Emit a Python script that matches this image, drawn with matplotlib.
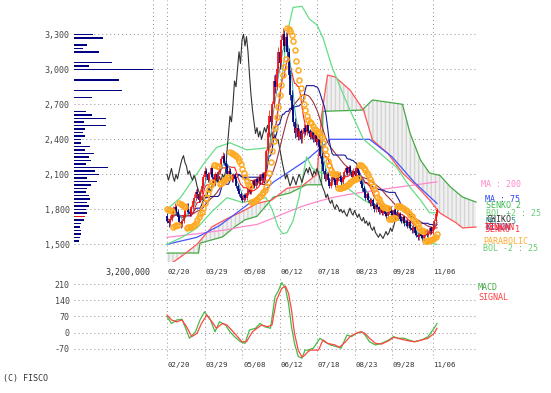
import numpy as np
import pandas as pd
import matplotlib
matplotlib.use("Agg")
import matplotlib.pyplot as plt

# ---------------- data ----------------
date_labels = ["02/20", "03/29", "05/08", "06/12", "07/18", "08/23", "09/28", "11/06"]
date_pos = [0, 25, 50, 75, 100, 125, 150, 177]

close = [
1700,1680,1720,1760,1800,1820,1780,1730,1690,1670,
1700,1750,1800,1830,1780,1760,1820,1870,1900,1950,
1930,1880,1950,2000,2080,2130,2100,2050,2100,2150,
2080,2040,2100,2060,2120,2180,2230,2260,2200,2170,
2100,2130,2080,2050,2090,2060,2000,1960,1930,1900,
1880,1920,1900,1940,1980,1950,2000,2040,2000,2060,
2030,2080,2040,2100,2070,2120,2300,2450,2600,2550,
2700,2900,2850,3000,3150,3050,3250,3300,3200,3280,
3150,2950,2780,2650,2550,2450,2500,2420,2470,2400,
2450,2500,2460,2520,2470,2420,2460,2400,2440,2380,
2400,2330,2260,2190,2130,2060,2100,2050,2000,2030,
2080,2050,2010,2060,2100,2070,2030,2080,2120,2150,
2110,2160,2120,2080,2130,2100,2150,2110,2060,2020,
1980,1950,1900,1930,1880,1850,1880,1830,1800,1840,
1820,1780,1800,1770,1790,1760,1740,1780,1810,1770,
1750,1790,1760,1730,1760,1720,1700,1730,1680,1700,
1660,1690,1640,1620,1650,1600,1580,1560,1590,1570,
1550,1580,1610,1580,1600,1640,1610,1650,1700,1760,1790]

open_ = [
1740,1700,1680,1720,1760,1800,1820,1780,1730,1690,
1670,1700,1750,1800,1830,1780,1760,1820,1870,1900,
1950,1930,1880,1950,2000,2080,2130,2100,2050,2100,
2150,2080,2040,2100,2060,2120,2180,2230,2260,2200,
2170,2100,2130,2080,2050,2090,2060,2000,1960,1930,
1900,1880,1920,1900,1940,1980,1950,2000,2040,2000,
2060,2030,2080,2040,2100,2070,2120,2300,2450,2600,
2550,2700,2900,2850,3000,3150,3050,3250,3300,3200,
3280,3150,2950,2780,2650,2550,2450,2500,2420,2470,
2400,2450,2500,2460,2520,2470,2420,2460,2400,2440,
2380,2400,2330,2260,2190,2130,2060,2100,2050,2000,
2030,2080,2050,2010,2060,2100,2070,2030,2080,2120,
2150,2110,2160,2120,2080,2130,2100,2150,2110,2060,
2020,1980,1950,1900,1930,1880,1850,1880,1830,1800,
1840,1820,1780,1800,1770,1790,1760,1740,1780,1810,
1770,1750,1790,1760,1730,1760,1720,1700,1730,1680,
1700,1660,1690,1640,1620,1650,1600,1580,1560,1590,
1570,1550,1580,1610,1580,1600,1640,1610,1650,1700,1760]

high = [
1770,1720,1750,1780,1830,1850,1840,1800,1750,1710,
1720,1770,1820,1850,1850,1800,1840,1890,1930,1970,
1980,1950,1970,2030,2100,2160,2150,2120,2120,2180,
2170,2100,2120,2120,2140,2200,2260,2290,2280,2220,
2190,2150,2150,2100,2110,2110,2080,2020,1980,1950,
1920,1940,1940,1960,2000,2000,2020,2060,2060,2080,
2080,2100,2100,2120,2120,2140,2320,2490,2650,2660,
2730,2950,2960,3030,3190,3200,3290,3350,3340,3320,
3310,3180,2990,2820,2690,2580,2540,2530,2500,2490,
2480,2530,2520,2550,2540,2490,2480,2480,2460,2460,
2430,2420,2350,2280,2210,2150,2120,2120,2070,2050,
2100,2100,2070,2080,2120,2120,2090,2100,2140,2170,
2170,2180,2180,2140,2150,2150,2170,2170,2120,2080,
2040,2000,1970,1950,1950,1900,1900,1900,1850,1860,
1860,1840,1820,1820,1810,1810,1780,1800,1830,1830,
1790,1810,1810,1780,1780,1780,1740,1750,1750,1720,
1720,1710,1710,1660,1670,1670,1620,1600,1610,1610,
1590,1600,1630,1630,1620,1660,1660,1670,1720,1780,1810]

low = [
1680,1650,1660,1700,1740,1780,1760,1710,1670,1640,
1650,1680,1730,1780,1760,1740,1740,1800,1850,1880,
1900,1860,1860,1930,1980,2050,2080,2030,2030,2080,
2060,2020,2020,2040,2040,2100,2160,2210,2180,2150,
2080,2080,2060,2030,2030,2040,1980,1940,1910,1880,
1860,1860,1880,1880,1920,1930,1930,1980,1980,1980,
2010,2010,2020,2020,2050,2050,2110,2280,2420,2500,
2520,2680,2800,2820,2970,3000,3020,3200,3150,3160,
3100,2920,2740,2620,2510,2410,2420,2390,2390,2370,
2370,2420,2440,2440,2450,2400,2400,2380,2380,2350,
2350,2310,2240,2170,2110,2040,2040,2030,1980,1980,
2010,2030,1990,1990,2040,2050,2010,2010,2060,2100,
2090,2090,2100,2060,2060,2080,2080,2090,2040,2000,
1960,1930,1880,1880,1860,1830,1830,1810,1780,1780,
1800,1760,1760,1750,1750,1740,1720,1720,1760,1750,
1730,1730,1740,1710,1710,1700,1680,1680,1660,1660,
1640,1640,1620,1600,1600,1580,1560,1540,1540,1550,
1530,1530,1560,1560,1560,1580,1590,1590,1630,1690,1740]

# smooth indicator lines: (day, value)
ma200_day = [0, 20, 40, 50, 60, 70, 80, 90, 100, 110, 120, 140, 160, 180]
ma200_val = [1560, 1590, 1625, 1650, 1670, 1720, 1775, 1825, 1865, 1900, 1925, 1965, 2000, 2035]

ma75_day = [0, 20, 35, 49, 60, 71, 80, 93, 100, 109, 135, 150, 165, 180]
ma75_val = [1500, 1560, 1660, 1794, 1900, 2034, 2110, 2222, 2300, 2400, 2400, 2250, 2030, 1850]

bbup_day = [0, 9, 17, 25, 33, 42, 53, 62, 68, 72, 76, 80, 84, 90, 95, 100, 104, 110, 117, 122, 131, 142, 153, 162, 169, 175, 180]
bbup_val = [1800, 1900, 2050, 2200, 2330, 2370, 2310, 2320, 2330, 2480, 2850, 3300, 3530, 3540, 3430, 3380, 3270, 3020, 2800, 2650, 2400, 2280, 2160, 1990, 1880, 1770, 1770]

bbdn_day = [0, 10, 20, 30, 40, 50, 60, 66, 70, 74, 77, 80, 84, 88, 93, 97, 105, 113, 122, 131, 142, 153, 164, 175, 180]
bbdn_val = [1500, 1560, 1640, 1780, 1900, 1860, 1880, 1900, 1800, 1650, 1590, 1600, 1700, 1900, 2250, 2150, 2100, 2080, 1965, 1880, 1800, 1730, 1620, 1510, 1500]

senko2_day = [0, 21, 22, 37, 45, 52, 60, 71, 82, 93, 103, 104, 130, 137, 157, 162, 169, 175, 182, 189, 197, 206]
senko2_val = [1425, 1425, 1510, 1563, 1648, 1710, 1740, 1905, 1940, 2010, 2010, 2640, 2650, 2737, 2700, 2453, 2222, 2111, 2090, 1991, 1905, 1862]

senko1_day = [0, 10, 20, 30, 40, 50, 60, 70, 80, 90, 100, 103, 107, 112, 122, 131, 137, 147, 157, 167, 175, 182, 193, 197, 206]
senko1_val = [1310, 1400, 1500, 1650, 1720, 1780, 1850, 1880, 1980, 2000, 2100, 2600, 2950, 2935, 2823, 2650, 2394, 2282, 2111, 1991, 1880, 1768, 1682, 1640, 1648]

macd_day = [0, 3, 6.5, 10, 12, 15, 19, 22, 25, 29, 32, 35, 39, 42, 45, 49, 52, 55, 59, 62, 65, 69, 72, 74, 76.5, 79, 81, 83, 85, 87.5, 90, 92, 94, 97.5, 102, 105, 109, 113, 116, 120, 123, 126, 130, 132, 135, 139, 143, 148, 151, 154, 158, 161, 165, 170, 174, 178, 180]
macd_val = [69, 40, 55, 58, 26, -24, 4, 55, 90, 55, 4, 47, 33, 4, -17, -39, -46, 12, 19, 40, 26, 19, 155, 177, 216, 191, 127, 26, -46, -103, -110, -75, -75, -67, -24, -39, -53, -60, -67, -10, -17, -3, 4, -10, -39, -53, -46, -31, -17, -24, -24, -31, -39, -31, -17, 19, 40]

signal_day = [0, 3, 6.5, 10, 13, 16.5, 20, 23, 26.5, 30, 33, 37, 40, 43, 47, 50, 53, 57, 60, 63, 67, 70, 73, 76.5, 79, 81, 83, 85, 87.5, 90, 92, 94, 95.5, 101, 104, 107, 112, 115, 119, 122, 126, 129, 132, 135, 139, 143, 148, 151, 154, 158, 161, 165, 170, 174, 178, 180]
signal_val = [76, 55, 47, 55, 26, -17, -3, 40, 76, 47, 19, 40, 33, 12, -17, -39, -39, 4, 19, 33, 26, 33, 141, 191, 201, 170, 98, -3, -75, -106, -96, -82, -75, -75, -31, -46, -53, -63, -39, -17, -3, 4, -3, -24, -46, -49, -34, -20, -24, -31, -35, -39, -31, -24, -3, 19]

vol_price = [3300, 3270, 3240, 3210, 3180, 3150, 3120, 3090, 3060, 3030, 3000, 2970, 2940, 2910, 2880, 2850, 2820, 2790, 2760, 2730, 2700, 2670, 2640, 2610, 2580, 2550, 2520, 2490, 2460, 2430, 2400, 2370, 2340, 2310, 2280, 2250, 2220, 2190, 2160, 2130, 2100, 2070, 2040, 2010, 1980, 1950, 1920, 1890, 1860, 1830, 1800, 1770, 1740, 1710, 1680, 1650, 1620, 1590, 1560, 1530]
vol_amount = [770000, 1200000, 0, 550000, 350000, 1000000, 0, 0, 1550000, 600000, 3200000, 0, 0, 1850000, 0, 0, 1950000, 0, 720000, 0, 0, 0, 500000, 750000, 1300000, 400000, 1300000, 450000, 350000, 450000, 300000, 300000, 650000, 450000, 800000, 600000, 700000, 500000, 1400000, 850000, 1000000, 550000, 950000, 700000, 550000, 500000, 600000, 650000, 550000, 600000, 500000, 550000, 450000, 400000, 300000, 250000, 300000, 300000, 250000, 200000]
current_bin = 1740
vol_max_label = "3,200,000"

price_ticks = [1500, 1800, 2100, 2400, 2700, 3000, 3300]
macd_ticks = [-70, 0, 70, 140, 210]

# ---------------- derived series ----------------
c = pd.Series(close, dtype=float)
h = pd.Series(high, dtype=float)
l = pd.Series(low, dtype=float)
days = np.arange(len(close))
ma5 = c.rolling(5, min_periods=1).mean()
ma25 = c.rolling(25, min_periods=1).mean()
tenkan = (h.rolling(9, min_periods=1).max() + l.rolling(9, min_periods=1).min()) / 2
kijun = (h.rolling(26, min_periods=1).max() + l.rolling(26, min_periods=1).min()) / 2
chiko_shift = 26


def parabolic(hh, ll, start_sar, af_step=0.02, af_max=0.2):
    n = len(hh)
    out = np.zeros(n)
    trend = -1
    sar = start_sar
    ep = ll[0]
    af = af_step
    out[0] = sar
    for i in range(1, n):
        sar = sar + af * (ep - sar)
        if trend == 1:
            sar = min(sar, ll[i - 1], ll[max(i - 2, 0)])
            if ll[i] < sar:
                trend, sar, ep, af = -1, ep, ll[i], af_step
            elif hh[i] > ep:
                ep, af = hh[i], min(af + af_step, af_max)
        else:
            sar = max(sar, hh[i - 1], hh[max(i - 2, 0)])
            if hh[i] > sar:
                trend, sar, ep, af = 1, ep, hh[i], af_step
            elif ll[i] < ep:
                ep, af = ll[i], min(af + af_step, af_max)
        out[i] = sar
    return out


sar = parabolic(high, low, 1800)

# ---------------- layout helpers ----------------
W, H = 551, 393
fig = plt.figure(figsize=(W / 100, H / 100), dpi=100)
fig.patch.set_facecolor("white")
MONO = "DejaVu Sans Mono"
FS = 6


def px_axes(x0, y0, x1, y1):
    return fig.add_axes([x0 / W, 1 - y1 / H, (x1 - x0) / W, (y1 - y0) / H])


def ftext(x, y, s, color="#333333", ha="left", size=FS):
    fig.text(x / W, 1 - y / H, s, color=color, ha=ha, va="center",
             fontsize=size, family=MONO)


X_LEFT, X_RIGHT = 74, 477
D0_PX, PX_PER_DAY = 167.0, 1.5
xlim = ((X_LEFT - D0_PX) / PX_PER_DAY, (X_RIGHT - D0_PX) / PX_PER_DAY)

PPX = 300 / 35.0
p_top = 1500 + (244.3 - 0) * PPX
p_bot = 1500 + (244.3 - 262) * PPX

grid_kw = dict(color="#9a9a9a", lw=0.75, ls=(0, (1, 2.8)), zorder=0.5)

# ---------------- price panel ----------------
ax = px_axes(X_LEFT, 0, X_RIGHT, 262)
ax.set_xlim(*xlim)
ax.set_ylim(p_bot, p_top)
for s in ax.spines.values():
    s.set_visible(False)
ax.set_xticks([])
ax.set_yticks(price_ticks)
ax.set_yticklabels([f"{v:,}" for v in price_ticks], family=MONO, fontsize=FS, color="#444444")
ax.tick_params(axis="y", length=0, pad=3)
ax.patch.set_alpha(0)
for v in price_ticks:
    ax.axhline(v, **grid_kw)
for d in date_pos:
    ax.axvline(d, **grid_kw)
ax.axvline((152.5 - D0_PX) / PX_PER_DAY, **grid_kw)

# ichimoku cloud
cloud_x = np.arange(0, 207)
s1 = np.interp(cloud_x, senko1_day, senko1_val)
s2 = np.interp(cloud_x, senko2_day, senko2_val)
ax.fill_between(cloud_x, s1, s2, facecolor="#f0f0f0", edgecolor="#d4d4d4",
                hatch="||||", linewidth=0, zorder=1)
ax.plot(senko2_day, senko2_val, color="#44aa44", lw=0.9, zorder=2)
ax.plot(senko1_day, senko1_val, color="#ff5555", lw=0.9, zorder=2)

ax.plot(ma200_day, ma200_val, color="#ff88cc", lw=0.9, zorder=2)
ax.plot(ma75_day, ma75_val, color="#4455ff", lw=0.9, zorder=2)
ax.plot(bbup_day, bbup_val, color="#66dd88", lw=0.9, zorder=2)
ax.plot(bbdn_day, bbdn_val, color="#66dd88", lw=0.9, zorder=2)

ax.plot(days[:len(close) - chiko_shift], close[chiko_shift:], color="#333333", lw=0.8, zorder=2.5)
ax.plot(days, ma25, color="#993344", lw=0.8, zorder=3)
ax.plot(days, kijun, color="#1a1a99", lw=0.8, zorder=3)
ax.plot(days, tenkan, color="#ff2222", lw=0.8, zorder=3)
ax.plot(days, ma5, color="#33aaaa", lw=0.7, zorder=3)

o_arr = np.array(open_)
c_arr = np.array(close)
up = c_arr >= o_arr
cols = np.where(up, "#ee1111", "#000080")
ax.vlines(days, low, high, colors=cols, lw=0.55, zorder=4)
ax.vlines(days, o_arr, c_arr, colors=cols, lw=1.25, zorder=4.1)

ax.plot(days, sar, ls="none", marker="o", ms=3.6, mfc="none", mec="#ffaa22",
        mew=1.1, zorder=5)

# ---------------- volume profile ----------------
axv = px_axes(X_LEFT, 0, 152.5, 262)
axv.set_xlim(0, 3200000)
axv.set_ylim(p_bot, p_top)
axv.axis("off")
vcols = ["#dd1111" if p == current_bin else "#000080" for p in vol_price]
axv.barh(vol_price, vol_amount, height=13, left=0, color=vcols, zorder=3)
ftext(150, 272, vol_max_label, ha="right")

# ---------------- MACD panel ----------------
m_top_px, m_bot_px = 277.0, 359.4
zero_px, per_unit = 332.7, 0.2319
axm = px_axes(X_LEFT, m_top_px, X_RIGHT, m_bot_px)
axm.set_xlim(*xlim)
axm.set_ylim((zero_px - m_bot_px) / per_unit, (zero_px - m_top_px) / per_unit)
for s in axm.spines.values():
    s.set_visible(False)
axm.patch.set_alpha(0)
axm.set_xticks([])
axm.set_yticks(macd_ticks)
axm.set_yticklabels([str(v) for v in macd_ticks], family=MONO, fontsize=FS, color="#444444")
axm.tick_params(axis="y", length=0, pad=3)
for v in macd_ticks:
    axm.axhline(v, **grid_kw)
for d in date_pos:
    axm.axvline(d, **grid_kw)
axm.plot(macd_day, macd_val, color="#44bb44", lw=0.9, zorder=3)
axm.plot(signal_day, signal_val, color="#ff4444", lw=0.9, zorder=3)

for d, lab in zip(date_pos, date_labels):
    xp = D0_PX + d * PX_PER_DAY
    ftext(xp + 1, 272, lab, size=5.3)
    ftext(xp + 1, 365, lab, size=5.3)

# ---------------- legends ----------------
ftext(481, 185, "MA : 200", "#ff88cc")
ftext(485, 200, "MA : 75", "#3344ff")
ftext(486, 206, "SENKO 2", "#44bb55")
ftext(486, 213, "BOL +2 : 25", "#66cc77")
ftext(486, 221, "MA : 5", "#339999")
ftext(486, 220, "CHIKO", "#333333")
ftext(485, 227, "KIJUN", "#2233aa")
ftext(485, 228, "TENKAN", "#ff2222")
ftext(485, 229, "SENKO 1", "#ff3344")
ftext(483, 242, "PARABOLIC", "#ffaa33")
ftext(483, 249, "BOL -2 : 25", "#66cc77")
ftext(478, 287, "MACD", "#44aa44")
ftext(478, 297, "SIGNAL", "#ff4444")
ftext(3, 378, "(C) FISCO", "#333333")

fig.savefig("out.png", dpi=100)
